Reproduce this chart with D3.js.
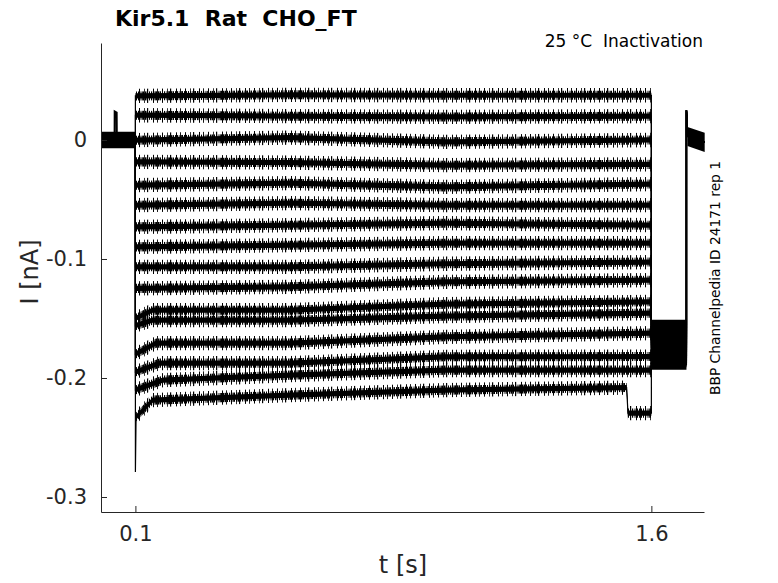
<html>
  <head>
    <script src="https://d3js.org/d3.v7.min.js"></script>
    <style>
      body { margin: 0; background: #fff; }
      text { font-family: "DejaVu Sans", sans-serif; white-space: pre; }
    </style>
  </head>
  <body>
    <svg id="traces" width="778" height="583"></svg>
    <script>

    // x ticks and y ticks shown on the axes
    const xTicks = [0.1, 1.6];
    const yTicks = [0, -0.1, -0.2, -0.3];

    // holding period before the pulse (t, I) incl. the small artefact
    const holdPoints = [[0, 0], [0.0395, 0], [0.0398, 0.024], [0.0455, 0.023], [0.046, 0], [0.1, 0]];
    const holdNoise = 0.007;

    // current during the 1.5 s pulse, one list of (t, I) per sweep
    const pulseSweeps = [
      [[0.1, 0.037], [0.55, 0.038], [1.0, 0.0376], [1.6, 0.0376]],
      [[0.1, 0.0208], [0.55, 0.0200], [1.0, 0.0194], [1.6, 0.0200]],
      [[0.1, -0.0002], [0.55, 0.0020], [1.0, -0.0016], [1.6, 0.0]],
      [[0.1, -0.0184], [0.55, -0.0190], [1.0, -0.0212], [1.6, -0.0205]],
      [[0.1, -0.0380], [0.55, -0.0363], [1.0, -0.0394], [1.6, -0.0370]],
      [[0.1, -0.0548], [0.55, -0.0531], [1.0, -0.0548], [1.6, -0.0548]],
      [[0.1, -0.0730], [0.55, -0.0716], [1.0, -0.0699], [1.6, -0.0716]],
      [[0.1, -0.0898], [0.55, -0.0884], [1.0, -0.0867], [1.6, -0.0867]],
      [[0.1, -0.1066], [0.55, -0.1066], [1.0, -0.1040], [1.6, -0.1026]],
      [[0.1, -0.1247], [0.55, -0.1234], [1.0, -0.1192], [1.6, -0.1178]],
      [[0.1, -0.1500], [0.15, -0.1430], [0.55, -0.1430], [1.0, -0.1380], [1.6, -0.1360]],
      [[0.1, -0.1560], [0.15, -0.1514], [0.55, -0.1514], [1.0, -0.1480], [1.6, -0.1455]],
      [[0.1, -0.1800], [0.16, -0.1707], [0.55, -0.1707], [1.0, -0.1654], [1.6, -0.1623]],
      [[0.1, -0.1950], [0.17, -0.1875], [0.55, -0.1875], [1.0, -0.1822], [1.6, -0.1820]],
      [[0.1, -0.2100], [0.18, -0.2018], [0.55, -0.1976], [1.0, -0.1934], [1.6, -0.1934]],
      [[0.1, -0.2790], [0.102, -0.2328], [0.15, -0.2186], [0.55, -0.2144], [1.0, -0.2102],
       [1.528, -0.2080], [1.532, -0.2295], [1.6, -0.2295]]
    ];
    // half widths of the noise envelope: solid core, dense fringe, sparse spikes
    const noiseCore = 0.0022, noiseMid = 0.0038, noiseSpike = 0.006;

    // level of each sweep after the pulse (1.6 s to 1.7 s)
    const tailLevels = [-0.155, -0.158, -0.160, -0.163, -0.165, -0.167, -0.170, -0.172,
                        -0.174, -0.176, -0.178, -0.181, -0.183, -0.185, -0.187, -0.189];
    const tailStart = 1.6, tailEnd = 1.702;
    const tailNoise = 0.004;

    // return to holding, with the capacitive overshoot
    const returnPoints = [[1.702, 0.025], [1.705, 0.003], [1.755, -0.002]];
    const returnNoise = 0.008;

    const svg = d3.select("svg#traces");
    const axisColor = "#262626";

    // stripe textures that give the bands a noisy edge
    const defs = svg.append("defs");
    const dense = defs.append("pattern").attr("id", "dense")
      .attr("patternUnits", "userSpaceOnUse").attr("width", 13).attr("height", 20);
    [[0, 1], [2, 1], [3.5, 1.5], [6, 1], [8, 1.2], [10.5, 1], [12, 0.8]].forEach(s =>
      dense.append("rect").attr("x", s[0]).attr("width", s[1]).attr("height", 20).attr("fill", "black"));
    const sparse = defs.append("pattern").attr("id", "sparse")
      .attr("patternUnits", "userSpaceOnUse").attr("width", 23).attr("height", 20);
    [[1, 1], [6, 0.8], [9, 1.2], [15, 1], [19, 0.9]].forEach(s =>
      sparse.append("rect").attr("x", s[0]).attr("width", s[1]).attr("height", 20).attr("fill", "black"));

    const x = d3.scaleLinear().domain([0, 1.753]).range([101, 704]);
    const y = d3.scaleLinear().domain([-0.3126, 0.0815]).range([512, 43]);

    const line = d3.line().x(d => x(d[0])).y(d => y(d[1]));
    const band = (w) => d3.area().x(d => x(d[0])).y0(d => y(d[1] - w)).y1(d => y(d[1] + w));

    let plot = svg.append("g").attr("id", "plot");

    // holding segment (all sweeps overlap here)
    plot.append("path").datum(holdPoints.filter(d => d[1] == 0))
      .attr("d", band(holdNoise)).attr("fill", "black");
    plot.append("path").datum(holdPoints)
      .attr("d", line).attr("fill", "none").attr("stroke", "black").attr("stroke-width", 2);

    pulseSweeps.forEach((pts, i) => {
      const tail = tailLevels[i];
      const full = [[0.1, 0]].concat(pts, [[tailStart, tail], [tailEnd, tail]], returnPoints);
      const body = pts.filter(d => d[1] > -0.25);

      // noise envelope during the pulse
      plot.append("path").datum(body).attr("d", band(noiseSpike)).attr("fill", "url(#sparse)");
      plot.append("path").datum(body).attr("d", band(noiseMid)).attr("fill", "url(#dense)");
      plot.append("path").datum(body).attr("d", band(noiseCore)).attr("fill", "black");

      // noise band during the tail
      plot.append("path").datum([[tailStart, tail], [tailEnd, tail]])
        .attr("d", band(tailNoise)).attr("fill", "black");

      plot.append("path").datum(full)
        .attr("d", line).attr("fill", "none")
        .attr("stroke", "black").attr("stroke-width", 1.2);
    });

    // back at holding
    plot.append("path").datum(returnPoints.slice(1))
      .attr("d", band(returnNoise)).attr("fill", "black");

    // axes, MATLAB style: ticks inward, box off
    let annotations = svg.append("g").attr("id", "annotations");

    let leftAxis = d3.axisLeft(y).tickValues(yTicks)
                     .tickSizeInner(-6).tickSizeOuter(0).tickPadding(14)
                     .tickFormat(d => d == 0 ? "0" : d3.format(".1f")(d).replace("−", "-"));
    annotations.append("g")
      .attr("transform", "translate(" + x.range()[0] + ",0)")
      .call(leftAxis);

    let bottomAxis = d3.axisBottom(x).tickValues(xTicks)
                       .tickSizeInner(-6).tickSizeOuter(0).tickPadding(14)
                       .tickFormat(d3.format(".1f"));
    annotations.append("g")
      .attr("transform", "translate(0," + y.range()[0] + ")")
      .call(bottomAxis);

    annotations.selectAll(".domain").attr("stroke", axisColor).attr("stroke-width", 1);
    annotations.selectAll(".tick line").attr("stroke", axisColor);
    annotations.selectAll(".tick text")
      .attr("fill", axisColor).style("font-size", "21px");

    // labels
    svg.append("text")
      .attr("x", 403).attr("y", 573)
      .attr("text-anchor", "middle").attr("fill", axisColor)
      .style("font-size", "24px")
      .text("t [s]");

    svg.append("text")
      .attr("transform", "translate(38,272) rotate(-90)")
      .attr("text-anchor", "middle").attr("fill", axisColor)
      .style("font-size", "24px")
      .text("I [nA]");

    svg.append("text")
      .attr("x", 115).attr("y", 26)
      .attr("fill", "black").style("font-weight", "bold")
      .style("font-size", "22px")
      .text("Kir5.1  Rat  CHO_FT");

    svg.append("text")
      .attr("x", 703).attr("y", 47)
      .attr("text-anchor", "end").attr("fill", "black")
      .style("font-size", "17px")
      .text("25 °C  Inactivation");

    svg.append("text")
      .attr("transform", "translate(720,278) rotate(-90)")
      .attr("text-anchor", "middle").attr("fill", "black")
      .style("font-size", "13.8px")
      .text("BBP Channelpedia ID 24171 rep 1");

    </script>
  </body>
</html>
